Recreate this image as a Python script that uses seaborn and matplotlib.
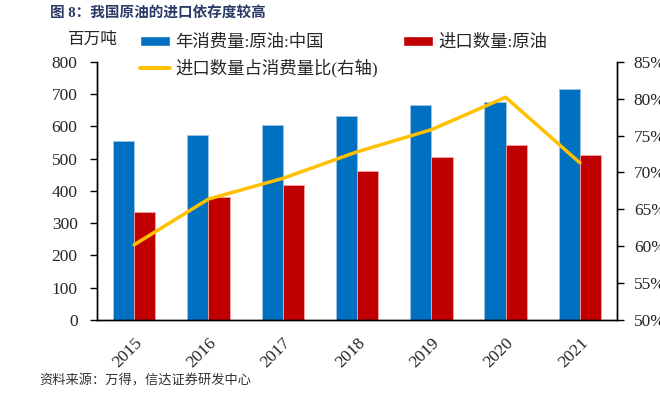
import matplotlib
matplotlib.use('Agg')
import matplotlib.pyplot as plt
import seaborn as sns
import numpy as np
import pandas as pd
from matplotlib.ticker import FuncFormatter, FixedLocator
from matplotlib.patches import Patch
from matplotlib.lines import Line2D

years = ['2015', '2016', '2017', '2018', '2019', '2020', '2021']
consumption = [556, 573, 604, 633, 665, 675, 716]   # 年消费量:原油:中国 (百万吨)
imports = [335, 380, 419, 461, 505, 541, 512]       # 进口数量:原油 (百万吨)
import_ratio = [60.2, 66.4, 69.2, 72.8, 75.8, 80.2, 71.3]  # 进口数量占消费量比 (%)

name_cons = '年消费量:原油:中国'
name_imp = '进口数量:原油'
name_ratio = '进口数量占消费量比(右轴)'

df = pd.DataFrame({
    'year': years * 2,
    'value': consumption + imports,
    'series': [name_cons] * len(years) + [name_imp] * len(years),
})

sns.set_style('white')
plt.rcParams['font.family'] = ['Liberation Serif', 'Noto Sans CJK SC', 'DejaVu Sans']
plt.rcParams['axes.unicode_minus'] = False

fig = plt.figure(figsize=(6.6, 3.99), dpi=100)
ax = fig.add_axes([0.147, 0.198, 0.788, 0.647])

blue, red, yellow = '#0070C0', '#C00000', '#FFC000'
sns.barplot(data=df, x='year', y='value', hue='series', palette=[blue, red],
            width=0.57, ax=ax, saturation=1, legend=False)
for p, c in zip(ax.patches, [blue] * 7 + [red] * 7):
    p.set_edgecolor('#9DC3E6' if c == blue else '#F4A6A6')
    p.set_linewidth(0.6)

ax.set_xlim(-0.5, len(years) - 0.5)
ax.set_ylim(0, 800)
ax.set_yticks(range(0, 801, 100))
ax.set_xlabel('')
ax.set_ylabel('')

ax2 = ax.twinx()
sns.lineplot(x=np.arange(len(years)), y=import_ratio, ax=ax2, color=yellow, lw=2.5)
ax2.set_ylim(50, 85)
ax2.set_yticks(range(50, 86, 5))
ax2.yaxis.set_major_formatter(FuncFormatter(lambda v, _: f'{int(v)}%'))
ax2.set_xlim(-0.5, len(years) - 0.5)

# category labels at centres, tick marks at boundaries
ax.set_xticks(range(len(years)))
ax.set_xticklabels(years, rotation=45, ha='right', rotation_mode='anchor', fontsize=12.5)
ax.tick_params(axis='x', which='major', length=0, pad=11)
ax.xaxis.set_minor_locator(FixedLocator(np.arange(-0.5, len(years), 1.0)))
ax.tick_params(axis='x', which='minor', length=5, width=1, direction='out', color='black')
ax.tick_params(axis='y', length=5, width=1, direction='out', labelsize=12.5, color='black',
               left=True, pad=9)
ax2.tick_params(axis='y', length=5, width=1, direction='out', labelsize=12.5, color='black',
                right=True, pad=7)

for a in (ax, ax2):
    a.spines['top'].set_visible(False)
    for s in ('left', 'right', 'bottom'):
        a.spines[s].set_color('black')
        a.spines[s].set_linewidth(1)
ax.grid(False)
ax2.grid(False)

handles = [Patch(facecolor=blue), Line2D([], [], color=yellow, lw=2.8), Patch(facecolor=red)]
labels = [name_cons, name_ratio, name_imp]
fig.legend(handles, labels, ncol=2, loc='upper left', bbox_to_anchor=(0.201, 0.93),
           frameon=False, fontsize=12.5, handlelength=1.75, handleheight=0.5,
           handletextpad=0.3, columnspacing=1.45, labelspacing=0.45, borderaxespad=0)

fig.text(0.103, 0.90, '百万吨', fontsize=12, ha='left', va='center')
fig.text(0.075, 0.965, '图 8：我国原油的进口依存度较高', fontsize=10.5, fontweight='bold',
         color='#2B3A67', ha='left', va='center')
fig.text(0.06, 0.045, '资料来源：万得，信达证券研发中心', fontsize=9.5, style='italic',
         color='#333333', ha='left', va='center')

fig.savefig('out.png', dpi=100)
